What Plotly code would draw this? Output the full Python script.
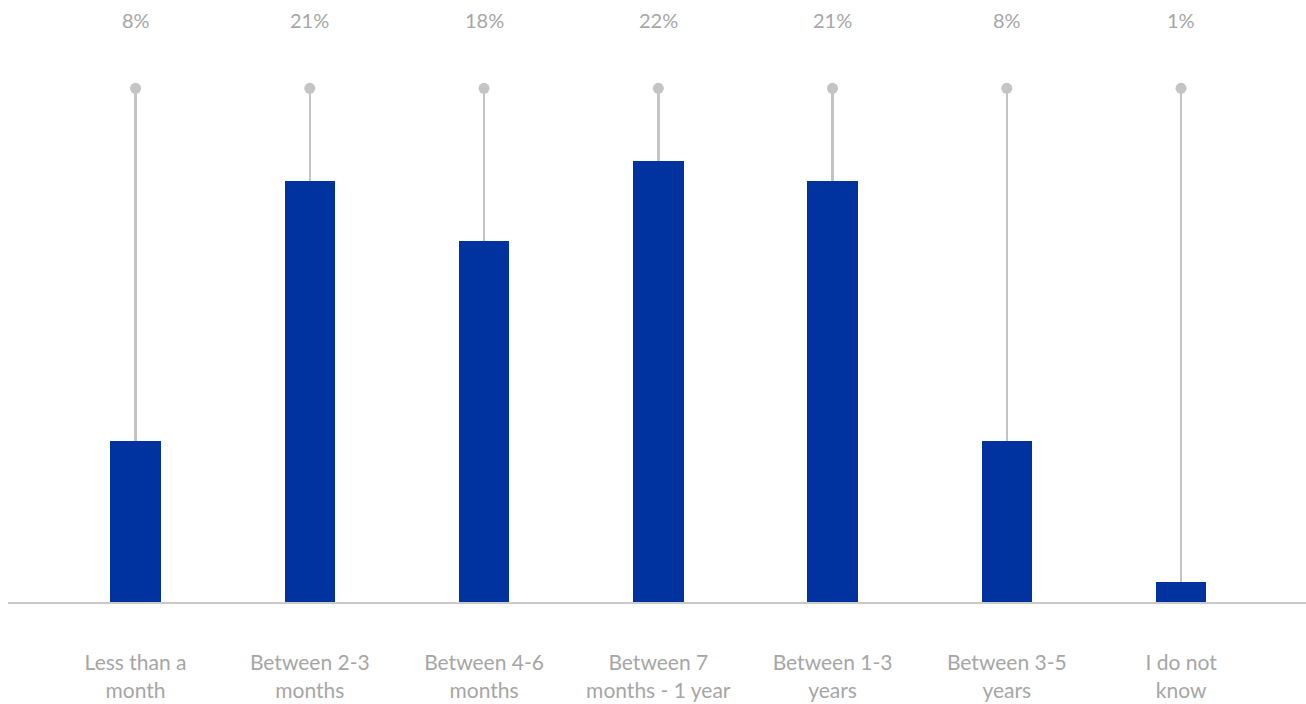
import plotly.graph_objects as go

# Survey answers: how long respondents expect it to take
categories = [
    "Less than a<br>month",
    "Between 2-3<br>months",
    "Between 4-6<br>months",
    "Between 7<br>months - 1 year",
    "Between 1-3<br>years",
    "Between 3-5<br>years",
    "I do not<br>know",
]
shares = [8, 21, 18, 22, 21, 8, 1]  # percent of respondents
share_labels = [f"{v}%" for v in shares]

BAR_BLUE = "#0033A0"
STEM_GREY = "#C4C4C6"
TEXT_GREY = "#A6A6A6"
FONT = "Lato, 'Open Sans', sans-serif"

Y_MAX = 30
STEM_TOP = 25.6  # height of the lollipop heads, in axis units

fig = go.Figure()

# thin grey stems running from the baseline up to the heads (behind the bars)
fig.add_trace(go.Bar(
    x=categories,
    y=[STEM_TOP] * len(categories),
    width=0.015,
    marker=dict(color=STEM_GREY, line=dict(width=0)),
    hoverinfo="skip",
    showlegend=False,
))

# main bars
fig.add_trace(go.Bar(
    x=categories,
    y=shares,
    width=0.29,
    marker=dict(color=BAR_BLUE, line=dict(width=0)),
    showlegend=False,
))

# round heads on top of the stems
fig.add_trace(go.Scatter(
    x=categories,
    y=[STEM_TOP] * len(categories),
    mode="markers",
    marker=dict(color=STEM_GREY, size=11),
    hoverinfo="skip",
    showlegend=False,
))

# percentage labels along the top
for cat, lab in zip(categories, share_labels):
    fig.add_annotation(
        x=cat, y=0.967, xref="x", yref="paper",
        text=lab, showarrow=False, yanchor="middle",
        font=dict(family=FONT, size=20, color=TEXT_GREY),
    )

fig.update_layout(
    width=1306,
    height=704,
    margin=dict(l=8, r=0, t=0, b=102),
    paper_bgcolor="white",
    plot_bgcolor="white",
    barmode="overlay",
    bargap=0,
    font=dict(family=FONT, color=TEXT_GREY),
    xaxis=dict(
        type="category",
        range=[-0.732, 6.717],
        showgrid=False,
        zeroline=False,
        showline=True,
        linecolor="#C9C9C9",
        linewidth=2,
        ticks="",
        ticklabelstandoff=41,
        tickfont=dict(family=FONT, size=21, color=TEXT_GREY),
    ),
    yaxis=dict(
        range=[0, Y_MAX],
        visible=False,
        showgrid=False,
        zeroline=False,
    ),
)

fig.write_html("out.html")
